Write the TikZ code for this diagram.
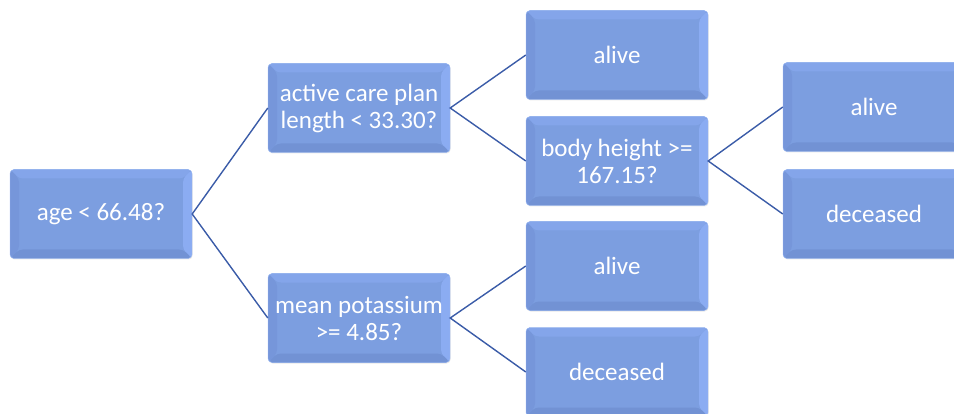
\documentclass[tikz,border=0pt]{standalone}
\usepackage{fontspec}
\setmainfont{Carlito}
\usetikzlibrary{positioning, shadows}
\definecolor{face}{HTML}{7C9EE0}
\definecolor{edgelight}{HTML}{9EBBF4}
\definecolor{bevtop}{HTML}{84A5EA}
\definecolor{bevright}{HTML}{8BACF2}
\definecolor{bevbottom}{HTML}{7292D4}
\definecolor{bevleft}{HTML}{7696DA}
\definecolor{linkblue}{HTML}{3B5CA8}
\newcommand{\bev}{9pt}
\tikzstyle{bevel}=[path picture={
  \coordinate (nw) at (path picture bounding box.north west);
  \coordinate (ne) at (path picture bounding box.north east);
  \coordinate (sw) at (path picture bounding box.south west);
  \coordinate (se) at (path picture bounding box.south east);
  \fill[bevtop] (nw) -- (ne) -- ([shift={(-\bev,-\bev)}]ne) -- ([shift={(\bev,-\bev)}]nw) -- cycle;
  \fill[bevright] (ne) -- (se) -- ([shift={(-\bev,\bev)}]se) -- ([shift={(-\bev,-\bev)}]ne) -- cycle;
  \fill[bevbottom] (se) -- (sw) -- ([shift={(\bev,\bev)}]sw) -- ([shift={(-\bev,\bev)}]se) -- cycle;
  \fill[bevleft] (sw) -- (nw) -- ([shift={(\bev,-\bev)}]nw) -- ([shift={(\bev,\bev)}]sw) -- cycle;
}]
\tikzstyle{block}=[draw=edgelight,fill=face,rectangle,rounded corners=4pt,bevel,
  minimum width=182pt,minimum height=89pt,inner sep=2pt,align=center,text=white,
  drop shadow={opacity=0.18,shadow xshift=0.6pt,shadow yshift=-1pt},
  font=\fontsize{25}{27}\selectfont]
\tikzstyle{link}=[draw=linkblue,line width=1.4pt]

\begin{document}
\begin{tikzpicture}[auto,>=latex]
  \useasboundingbox (0pt,0pt) rectangle (954pt,413pt);
  \node[block] (root) at (101pt,199pt) {age < 66.48?};
  \node[block, right of=root, node distance=258pt, yshift=106pt] (plan) {active care plan\\length < 33.30?};
  \node[block, right of=root, node distance=258pt, yshift=-104pt] (potassium) {mean potassium\\>= 4.85?};
  \node[block, right of=plan, node distance=258pt, yshift=53pt] (alive1) {alive};
  \node[block, right of=plan, node distance=258pt, yshift=-53pt] (height) {body height >=\\167.15?};
  \node[block, right of=height, node distance=257pt, yshift=54pt] (alive2) {alive};
  \node[block, right of=height, node distance=257pt, yshift=-53pt] (deceased2) {deceased};
  \node[block, right of=potassium, node distance=258pt, yshift=52pt] (alive3) {alive};
  \node[block, right of=potassium, node distance=258pt, yshift=-54pt] (deceased3) {deceased};
  \draw[link] (plan.west) -- (root.east) -- (potassium.west);
  \draw[link] (alive1.west) -- (plan.east) -- (height.west);
  \draw[link] (alive2.west) -- (height.east) -- (deceased2.west);
  \draw[link] (alive3.west) -- (potassium.east) -- (deceased3.west);
\end{tikzpicture}
\end{document}
